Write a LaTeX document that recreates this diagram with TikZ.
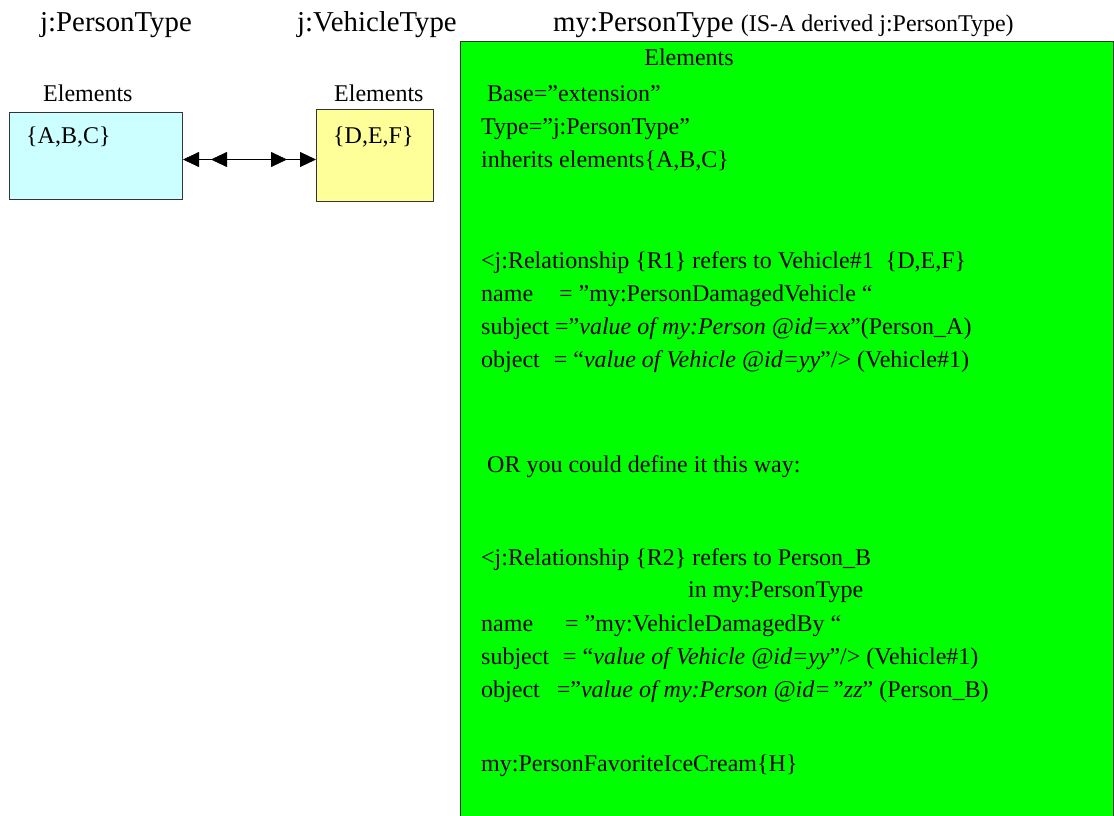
\documentclass[tikz,border=0pt]{standalone}
\usepackage{fontspec}
\setmainfont{Liberation Serif}
\usepackage{xcolor}
\usetikzlibrary{arrows.meta}
\definecolor{abccyan}{HTML}{CCFFFF}
\definecolor{defyellow}{HTML}{FFFF99}
\definecolor{mygreen}{HTML}{00FF00}
\definecolor{edgegray}{HTML}{333333}

\begin{document}
\begin{tikzpicture}[x=1pt, y=-1pt,
	title/.style={anchor=base west, inner sep=0pt, font=\fontsize{28.8}{32}\selectfont},
	txt/.style={anchor=base west, inner sep=0pt, font=\fontsize{24}{28}\selectfont},
	elbox/.style={draw=edgegray, anchor=north west, inner sep=0pt, line width=1pt},
	tri/.style={{Triangle[length=16pt,width=15pt]}-{Triangle[length=16pt,width=15pt]}, line width=0.8pt}]
	\useasboundingbox (0,0) rectangle (1114,816);
	\node[title] (ptype) at (40,32) {j:PersonType};
	\node[title] (vtype) at (297,32) {j:VehicleType};
	\node[title] (mytype) at (553,32) {my:PersonType {\fontsize{24}{28}\selectfont(IS-A derived j:PersonType)}};
	\node[txt] (abcel) at (43,101) {Elements};
	\node[txt] (defel) at (334,101) {Elements};
	\node[elbox, fill=abccyan, minimum width=173pt, minimum height=87pt] (abc) at (9,112) {};
	\node[elbox, fill=defyellow, minimum width=117pt, minimum height=92pt] (def) at (316,109) {};
	\node[txt] (abctext) at (26,143) {\{A,B,C\}};
	\node[txt] (deftext) at (333,143) {\{D,E,F\}};
	\draw[tri] ([yshift=-4pt]def.west -| abc.east) -- ([yshift=-4pt]def.west);
	\draw[tri, shorten <=28pt, shorten >=29pt] ([yshift=-4pt]def.west -| abc.east) -- ([yshift=-4pt]def.west);
	\node[elbox, fill=mygreen, minimum width=653pt, minimum height=777pt] (mybox) at (460,41) {};
	\node[txt, anchor=base] (myel) at (689,66) {Elements};
	\node[txt] (base) at (487,102) {Base=”extension”};
	\node[txt] (type) at (481,134) {Type=”j:PersonType”};
	\node[txt] (inh) at (481,167) {inherits elements\{A,B,C\}};
	\node[txt] (rone) at (481,268) {<j:Relationship \{R1\} refers to Vehicle\#1\ \ \{D,E,F\}};
	\node[txt] (ronename) at (481,301) {name\hspace{20pt} = ”my:PersonDamagedVehicle “};
	\node[txt] (ronesubj) at (481,334) {subject =”\textit{value of my:Person @id=xx}”(Person\_A)};
	\node[txt] (roneobj) at (481,367) {object\hspace{8pt} = “\textit{value of Vehicle @id=yy}”/> (Vehicle\#1)};
	\node[txt] (orline) at (487,472) {OR you could define it this way:};
	\node[txt] (rtwo) at (481,565) {<j:Relationship \{R2\} refers to Person\_B};
	\node[txt] (rtwoin) at (688,597) {in my:PersonType};
	\node[txt] (rtwoname) at (481,631) {name\hspace{26pt} = ”my:VehicleDamagedBy “};
	\node[txt] (rtwosubj) at (481,664) {subject\hspace{8pt} = “\textit{value of Vehicle @id=yy}”/> (Vehicle\#1)};
	\node[txt] (rtwoobj) at (481,697) {object\hspace{11pt} =”\textit{value of my:Person @id=”zz}” (Person\_B)};
	\node[txt] (icecream) at (481,771) {my:PersonFavoriteIceCream\{H\}};
\end{tikzpicture}
\end{document}
